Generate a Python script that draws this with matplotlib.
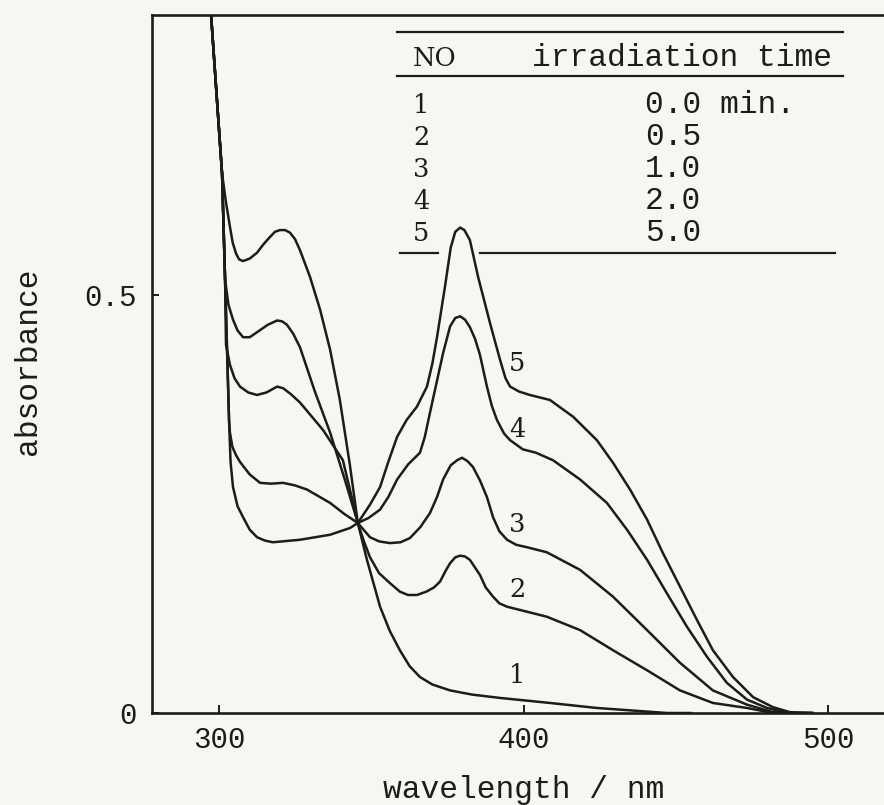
import matplotlib
matplotlib.use('Agg')
import matplotlib.pyplot as plt
from matplotlib.lines import Line2D

# ---------------- data (wavelength / nm, absorbance) ----------------
wl1 = [296.5, 297.3, 300.9, 302.2, 303.5, 304.4, 305.5, 306.5, 307.8, 310.0,
       312.4, 314.5, 316.7, 318.3, 319.9, 321.6, 323.2, 324.9, 326.5, 329.8,
       333.1, 336.4, 339.6, 342.9, 345.5, 348.5, 352.8, 356.0, 359.3, 362.5,
       365.9, 370.0, 375.8, 383.0, 392.2, 408.6, 424.0, 447.0, 455.0]
ab1 = [0.880, 0.834, 0.645, 0.610, 0.581, 0.562, 0.549, 0.542, 0.540, 0.543,
       0.550, 0.560, 0.569, 0.575, 0.577, 0.577, 0.574, 0.566, 0.553, 0.521,
       0.482, 0.434, 0.374, 0.296, 0.227, 0.183, 0.127, 0.098, 0.075, 0.056,
       0.043, 0.034, 0.027, 0.022, 0.018, 0.012, 0.006, 0.000, 0.000]

wl2 = [296.5, 297.3, 300.9, 301.9, 303.0, 304.5, 306.0, 307.8, 310.0, 312.4,
       316.0, 319.0, 320.6, 322.2, 324.3, 326.5, 331.4, 336.4, 341.3, 345.5,
       347.5, 349.5, 352.5, 356.1, 359.3, 362.0, 364.9, 368.0, 370.5, 372.5,
       374.5, 375.8, 377.5, 379.1, 380.7, 382.3, 385.6, 387.5, 389.9, 392.0,
       394.5, 400.0, 407.6, 418.5, 429.3, 440.5, 451.3, 462.1, 473.3, 481.8,
       490.0]
ab2 = [0.880, 0.834, 0.645, 0.518, 0.488, 0.470, 0.457, 0.449, 0.449, 0.455,
       0.464, 0.469, 0.468, 0.464, 0.453, 0.437, 0.384, 0.335, 0.278, 0.227,
       0.205, 0.186, 0.167, 0.155, 0.145, 0.141, 0.141, 0.145, 0.150, 0.157,
       0.171, 0.179, 0.186, 0.188, 0.187, 0.183, 0.165, 0.150, 0.139, 0.131,
       0.127, 0.122, 0.115, 0.099, 0.075, 0.051, 0.027, 0.012, 0.006, 0.000,
       0.000]

wl3 = [296.5, 297.3, 300.9, 301.9, 302.2, 303.5, 305.0, 306.8, 309.5, 312.4,
       315.5, 319.0, 321.0, 323.5, 326.5, 334.1, 340.6, 345.5, 349.5, 352.5,
       356.1, 359.5, 362.6, 366.0, 369.2, 371.5, 373.5, 376.0, 378.1, 379.7,
       381.5, 383.3, 385.6, 387.9, 389.9, 392.0, 394.5, 397.5, 401.1, 407.6,
       418.5, 429.3, 440.5, 451.3, 462.1, 473.3, 481.8, 487.4, 495.0]
ab3 = [0.880, 0.834, 0.645, 0.518, 0.440, 0.416, 0.400, 0.390, 0.383, 0.380,
       0.383, 0.390, 0.388, 0.381, 0.371, 0.338, 0.302, 0.227, 0.210, 0.205,
       0.203, 0.204, 0.209, 0.222, 0.239, 0.258, 0.279, 0.296, 0.302, 0.305,
       0.301, 0.294, 0.278, 0.258, 0.234, 0.217, 0.207, 0.201, 0.198, 0.192,
       0.171, 0.139, 0.099, 0.060, 0.027, 0.010, 0.001, 0.000, 0.000]

wl4 = [296.5, 297.3, 300.9, 301.9, 303.2, 303.5, 304.3, 305.5, 306.8, 310.0,
       313.4, 317.0, 320.9, 324.8, 328.8, 336.4, 341.0, 345.5, 349.0, 352.8,
       355.5, 358.4, 362.0, 365.9, 367.5, 369.2, 371.5, 373.5, 375.8, 377.5,
       379.1, 380.7, 382.3, 384.0, 385.6, 387.9, 389.5, 391.2, 393.5, 395.5,
       399.7, 404.0, 409.6, 418.5, 427.3, 433.9, 440.5, 447.0, 453.6, 460.2,
       466.7, 473.3, 479.9, 486.4, 495.0]
ab4 = [0.880, 0.834, 0.645, 0.518, 0.350, 0.335, 0.318, 0.308, 0.300, 0.285,
       0.275, 0.274, 0.275, 0.272, 0.267, 0.251, 0.238, 0.227, 0.233, 0.243,
       0.258, 0.279, 0.297, 0.311, 0.330, 0.359, 0.397, 0.430, 0.462, 0.472,
       0.474, 0.470, 0.461, 0.447, 0.428, 0.390, 0.367, 0.350, 0.334, 0.326,
       0.315, 0.311, 0.302, 0.279, 0.251, 0.219, 0.183, 0.143, 0.103, 0.067,
       0.036, 0.016, 0.006, 0.000, 0.000]

wl5 = [296.5, 297.3, 300.9, 301.9, 303.2, 303.7, 304.5, 306.0, 307.8, 310.0,
       312.4, 315.0, 317.6, 326.5, 336.4, 342.9, 345.5, 349.5, 352.8, 355.5,
       358.4, 361.5, 364.9, 368.2, 370.0, 371.5, 374.1, 376.0, 377.5, 379.1,
       380.5, 382.3, 385.0, 388.9, 392.2, 394.0, 395.5, 398.5, 402.0, 408.6,
       416.2, 424.0, 429.3, 434.9, 440.5, 445.7, 451.3, 456.9, 462.1, 468.7,
       475.3, 481.8, 487.4, 495.0]
ab5 = [0.880, 0.834, 0.645, 0.518, 0.350, 0.300, 0.270, 0.247, 0.234, 0.219,
       0.210, 0.206, 0.204, 0.207, 0.213, 0.221, 0.227, 0.249, 0.270, 0.300,
       0.330, 0.350, 0.366, 0.390, 0.418, 0.449, 0.509, 0.556, 0.575, 0.580,
       0.577, 0.565, 0.521, 0.466, 0.422, 0.400, 0.390, 0.384, 0.380, 0.374,
       0.354, 0.326, 0.299, 0.267, 0.231, 0.191, 0.151, 0.111, 0.075, 0.043,
       0.019, 0.007, 0.001, 0.000]

curve_numbers = ['1', '2', '3', '4', '5']
irradiation_times = ['0.0 min.', '0.5', '1.0', '2.0', '5.0']
label_wl = [397.8, 397.8, 397.8, 397.8, 397.8]
label_ab = [0.045, 0.147, 0.225, 0.339, 0.418]

x_ticks = [300, 400, 500]
x_tick_labels = ['300', '400', '500']
y_ticks = [0, 0.5]
y_tick_labels = ['0', '0.5']

# ---------------- style ----------------
MONO = 'Liberation Mono'
SERIF = 'DejaVu Serif'
BG = '#f6f6f4'
INK = '#1c1c1c'
plt.rcParams['font.family'] = [MONO, 'DejaVu Sans']

W, H = 884, 805
fig = plt.figure(figsize=(W / 100, H / 100), dpi=100, facecolor=BG)


def fx(px):
    return px / W


def fy(py):
    return 1 - py / H


ax = fig.add_axes([fx(152), fy(713), fx(884) - fx(152), fy(15) - fy(713)])
ax.set_facecolor(BG)

for wl, ab in [(wl1, ab1), (wl2, ab2), (wl3, ab3), (wl4, ab4), (wl5, ab5)]:
    ax.plot(wl, ab, color=INK, lw=1.8, solid_joinstyle='round',
            solid_capstyle='round')

ax.set_xlim(277.9, 518.3)
ax.set_ylim(0, 0.834)
ax.spines['right'].set_visible(False)
for s in ['left', 'bottom', 'top']:
    ax.spines[s].set_linewidth(1.9)
    ax.spines[s].set_color(INK)

ax.set_xticks(x_ticks)
ax.set_xticklabels(x_tick_labels)
ax.set_yticks(y_ticks)
ax.set_yticklabels(y_tick_labels)
ax.tick_params(axis='x', direction='in', length=6, width=1.4, pad=9,
               labelsize=21, colors=INK)
ax.tick_params(axis='y', direction='in', length=5, width=1.4, pad=11,
               labelsize=21, colors=INK)

# curve labels
for n, xw, ya in zip(curve_numbers, label_wl, label_ab):
    ax.text(xw, ya, n, family=SERIF, fontsize=18.5, ha='center', va='center',
            color=INK)

# axis labels
fig.text(fx(524), fy(790), 'wavelength / nm', ha='center', va='center',
         fontsize=22.5, color=INK)
fig.text(fx(28), fy(361), 'absorbance', ha='center', va='center',
         rotation=90, fontsize=22.5, color=INK)


# table legend
def hline(x0, x1, y):
    fig.add_artist(Line2D([fx(x0), fx(x1)], [fy(y), fy(y)],
                          transform=fig.transFigure, color=INK, lw=1.6))


hline(397, 843, 32)
hline(397, 843, 76)
hline(400, 438, 253)
hline(480, 835, 253)
fig.text(fx(413), fy(66), 'NO', family=SERIF, fontsize=18.5, ha='left',
         va='baseline', color=INK)
fig.text(fx(532), fy(66), 'irradiation time', fontsize=22.5, ha='left',
         va='baseline', color=INK)
for i, (n, t) in enumerate(zip(curve_numbers, irradiation_times)):
    yb = 113 + 32 * i
    fig.text(fx(413), fy(yb), n, family=SERIF, fontsize=18.5, ha='left',
             va='baseline', color=INK)
    fig.text(fx(645), fy(yb), t, fontsize=22.5, ha='left', va='baseline',
             color=INK)

fig.savefig('out.png', dpi=100, facecolor=BG)
